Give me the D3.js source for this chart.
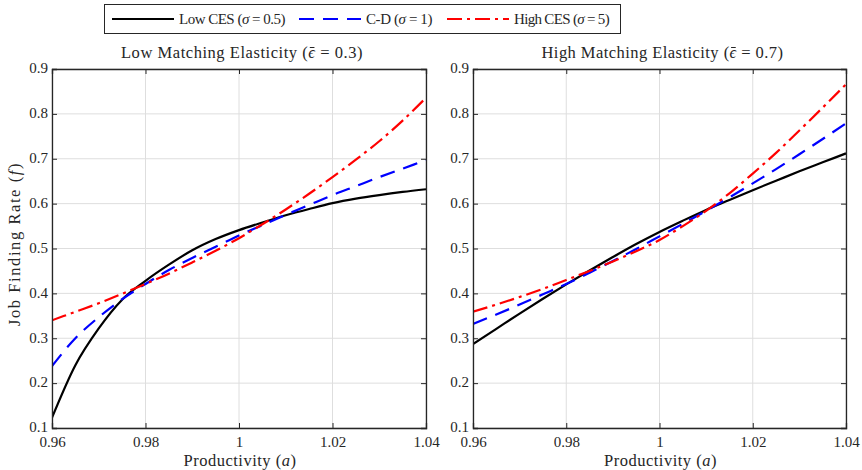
<!DOCTYPE html>
<html><head><meta charset="utf-8">
<script src="https://cdn.jsdelivr.net/npm/d3@7/dist/d3.min.js"></script>
<style>body{margin:0;background:#fff}svg{display:block}text{font-family:"Liberation Serif","DejaVu Serif",serif;fill:#262626}</style>
</head><body>
<svg id="c" width="862" height="470"></svg>
<script>
// ---------- data ----------
const productivity = [0.960,0.965,0.970,0.975,0.980,0.985,0.990,0.995,1.000,1.005,1.010,1.015,1.020,1.025,1.030,1.035,1.040];
const xTicks = [0.96,0.98,1.00,1.02,1.04];
const xTickLabels = ["0.96","0.98","1","1.02","1.04"];
const yTicks = [0.1,0.2,0.3,0.4,0.5,0.6,0.7,0.8,0.9];
const yTickLabels = ["0.1","0.2","0.3","0.4","0.5","0.6","0.7","0.8","0.9"];
const seriesNames = ["Low CES", "C-D", "High CES"];
const sigmaLabels = ["0.5", "1", "5"];
const panelTitles = ["Low Matching Elasticity", "High Matching Elasticity"];
const epsLabels = ["0.3", "0.7"];

// Low matching elasticity panel
const lowEpsLowCES  = [0.123,0.240,0.322,0.386,0.428,0.464,0.496,0.521,0.541,0.558,0.574,0.588,0.601,0.611,0.619,0.626,0.632];
const lowEpsCD      = [0.238,0.300,0.347,0.387,0.421,0.452,0.479,0.504,0.529,0.552,0.575,0.597,0.619,0.639,0.659,0.678,0.697];
const lowEpsHighCES = [0.340,0.359,0.378,0.399,0.421,0.444,0.469,0.495,0.523,0.554,0.587,0.622,0.659,0.698,0.739,0.785,0.836];
// High matching elasticity panel
const highEpsLowCES  = [0.287,0.321,0.355,0.388,0.420,0.451,0.481,0.510,0.537,0.562,0.586,0.608,0.630,0.651,0.672,0.692,0.712];
const highEpsCD      = [0.332,0.353,0.375,0.398,0.421,0.446,0.472,0.499,0.527,0.555,0.584,0.614,0.645,0.677,0.710,0.744,0.779];
const highEpsHighCES = [0.359,0.375,0.392,0.410,0.430,0.450,0.471,0.494,0.519,0.550,0.584,0.623,0.667,0.713,0.763,0.814,0.866];

// ---------- styling ----------
const styles = [
  {color:"#000000", dash:null},
  {color:"#0000ff", dash:"15,9"},
  {color:"#ff0000", dash:"15,5,3,5"}
];
const axisColor = "#262626";
const svg = d3.select("#c");
const plotTop = 69, plotBottom = 428;
const labelSize = "16.5px";

// adjust text width to the reference by letter spacing
function fitWidth(sel, w) {
  const node = sel.node();
  const n = sel.text().length;
  const natural = node.getComputedTextLength();
  const ls = (w - natural) / n;
  sel.style("letter-spacing", ls.toFixed(3) + "px");
  return ls;
}

const panels = [
  {left:52, right:426, data:[lowEpsLowCES, lowEpsCD, lowEpsHighCES]},
  {left:473, right:846, data:[highEpsLowCES, highEpsCD, highEpsHighCES]}
];

panels.forEach((p, pi) => {
  const x = d3.scaleLinear().domain([0.96,1.04]).range([p.left, p.right]);
  const y = d3.scaleLinear().domain([0.1,0.9]).range([plotBottom, plotTop]);
  const g = svg.append("g");
  // grid
  g.selectAll(".gx").data(xTicks).join("line")
    .attr("x1", d=>x(d)).attr("x2", d=>x(d)).attr("y1", plotTop).attr("y2", plotBottom)
    .attr("stroke", "#dedede").attr("stroke-width", 1);
  g.selectAll(".gy").data(yTicks).join("line")
    .attr("x1", p.left).attr("x2", p.right).attr("y1", d=>y(d)).attr("y2", d=>y(d))
    .attr("stroke", "#dedede").attr("stroke-width", 1);
  // lines
  const line = d3.line().x((d,i)=>x(productivity[i])).y(d=>y(d)).curve(d3.curveMonotoneX);
  const clipId = "clip"+pi;
  svg.append("clipPath").attr("id", clipId).append("rect")
    .attr("x", p.left).attr("y", plotTop-3).attr("width", p.right-p.left+3).attr("height", plotBottom-plotTop+6);
  p.data.forEach((s, si) => {
    g.append("path").datum(s).attr("d", line)
      .attr("fill","none").attr("stroke", styles[si].color).attr("stroke-width", 2.2)
      .attr("stroke-dasharray", styles[si].dash).attr("clip-path", `url(#${clipId})`);
  });
  // axes (ticks inward)
  const xAxis = d3.axisBottom(x).tickValues(xTicks).tickFormat((d,i)=>xTickLabels[i]).tickSize(-5).tickPadding(8);
  const yAxis = d3.axisLeft(y).tickValues(yTicks).tickFormat((d,i)=>yTickLabels[i]).tickSize(-5).tickPadding(4);
  const gx = g.append("g").attr("transform", `translate(0,${plotBottom})`).call(xAxis);
  const gy = g.append("g").attr("transform", `translate(${p.left},0)`).call(yAxis);
  gy.selectAll(".tick text").attr("dy", "0.25em");
  const gxt = g.append("g").attr("transform", `translate(0,${plotTop})`).call(d3.axisTop(x).tickValues(xTicks).tickFormat("").tickSize(-5));
  const gyr = g.append("g").attr("transform", `translate(${p.right},0)`).call(d3.axisRight(y).tickValues(yTicks).tickFormat("").tickSize(-5));
  [gx, gy, gxt, gyr].forEach(a => {
    a.select(".domain").attr("stroke", axisColor).attr("stroke-width", 1.3);
    a.selectAll(".tick line").attr("stroke", axisColor).attr("stroke-width", 1);
    a.selectAll(".tick text").attr("fill", axisColor).style("font-size","15px").style("font-family",'"Liberation Serif",serif');
  });
  // title
  const cx = (p.left + p.right)/2;
  const t = g.append("text").attr("x", cx + 3).attr("y", 58).attr("text-anchor","middle").style("font-size", labelSize);
  t.append("tspan").text(panelTitles[pi] + " (");
  t.append("tspan").style("font-style","italic").text("\u03F5");
  t.append("tspan").text(" = " + epsLabels[pi] + ")");
  const ls = fitWidth(t, 242);
  // bar over epsilon
  const epsIdx = (panelTitles[pi] + " (").length;
  const ext = t.node().getExtentOfChar(epsIdx);
  g.append("line")
    .attr("x1", ext.x + 1.5).attr("x2", ext.x + ext.width - Math.max(ls, 0) - 0.5)
    .attr("y1", 47.5).attr("y2", 47.5)
    .attr("stroke", axisColor).attr("stroke-width", 1);
  // x label
  const xl = g.append("text").attr("x", cx + 1).attr("y", 466).attr("text-anchor","middle").style("font-size", labelSize);
  xl.append("tspan").text("Productivity (");
  xl.append("tspan").style("font-style","italic").text("a");
  xl.append("tspan").text(")");
  fitWidth(xl, 113);
});

// y label
const yl = svg.append("text").attr("transform", "translate(20,244) rotate(-90)").attr("text-anchor","middle").style("font-size", labelSize);
yl.append("tspan").text("Job Finding Rate (");
yl.append("tspan").style("font-style","italic").text("f");
yl.append("tspan").text(")");
fitWidth(yl, 164);

// legend
const lg = svg.append("g");
lg.append("rect").attr("x", 104.5).attr("y", 4.5).attr("width", 516).attr("height", 29)
  .attr("fill","#fff").attr("stroke", axisColor).attr("stroke-width", 1);
const legendX = [112, 299, 447];
const legendTextW = [106, 66, 95];
seriesNames.forEach((n, i) => {
  lg.append("line").attr("x1", legendX[i]).attr("x2", legendX[i]+62).attr("y1", 19).attr("y2", 19)
    .attr("stroke", styles[i].color).attr("stroke-width", 2.2).attr("stroke-dasharray", styles[i].dash);
  const tx = lg.append("text").attr("x", legendX[i]+67).attr("y", 24).style("font-size", "15px");
  tx.append("tspan").text(n + " (");
  tx.append("tspan").style("font-style","italic").text("\u03C3");
  tx.append("tspan").text(" = " + sigmaLabels[i] + ")");
  fitWidth(tx, legendTextW[i]);
});
</script>
</body></html>
